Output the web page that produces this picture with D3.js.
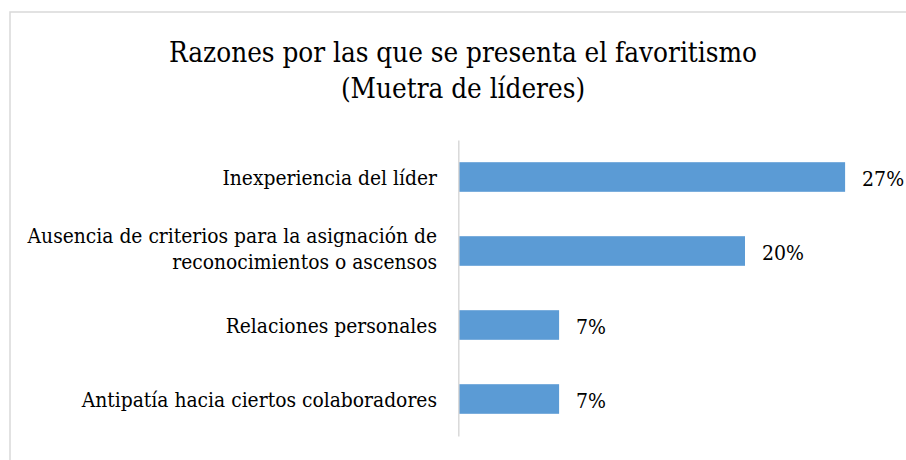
<!DOCTYPE html>
<html>
<head>
<meta charset="utf-8">
<script src="https://cdn.jsdelivr.net/npm/d3@7"></script>
<style>
  body { margin: 0; background: #fff; }
  svg text { font-family: "DejaVu Serif Condensed", "DejaVu Serif", serif; font-stretch: condensed; fill: #000; }
</style>
</head>
<body>
<svg width="906" height="460"></svg>
<script>
// titolo su due righe
var titleLines = ["Razones por las que se presenta el favoritismo", "(Muetra de líderes)"];

// categorie (alcune etichette vanno a capo)
var categorie = [
  ["Inexperiencia del líder"],
  ["Ausencia de criterios para la asignación de", "reconocimientos o ascensos"],
  ["Relaciones personales"],
  ["Antipatía hacia ciertos colaboradores"]
];
var valori = [27, 20, 7, 7];

var svg = d3.select("svg");

// cornice del grafico
svg.append("rect")
   .attr("x", 10).attr("y", 12)
   .attr("width", 910).attr("height", 460)
   .attr("fill", "none")
   .attr("stroke", "#d9d9d9")
   .attr("stroke-width", 1.5);

// titolo
svg.selectAll(".titolo").data(titleLines).enter().append("text")
   .attr("class", "titolo")
   .attr("x", 463)
   .attr("y", function(d, i){ return 62 + i*36; })
   .attr("text-anchor", "middle")
   .attr("font-size", 27.6)
   .text(function(d){ return d; });

var yScale = d3.scaleBand()
   .domain(d3.range(categorie.length))
   .range([140, 436])
   .paddingInner(0.6)
   .paddingOuter(0.3);

var xScale = d3.scaleLinear()
   .domain([0, 30])
   .range([459, 888]);

// barre
svg.selectAll(".bar").data(valori).enter().append("rect")
   .attr("class", "bar")
   .attr("x", xScale(0))
   .attr("y", function(d, i){ return yScale(i); })
   .attr("width", function(d){ return xScale(d) - xScale(0); })
   .attr("height", yScale.bandwidth())
   .attr("fill", "#5b9bd5");

// asse verticale
var yAxis = d3.axisLeft(yScale).tickSize(0).tickFormat("");
var gAxis = svg.append("g")
   .attr("transform", "translate(458.3,0)")
   .call(yAxis);
gAxis.select(".domain").attr("stroke", "#d9d9d9").attr("stroke-width", 1.5);

// etichette categorie
var lineH = 26;
svg.selectAll(".cat").data(categorie).enter().append("text")
   .attr("class", "cat")
   .attr("text-anchor", "end")
   .attr("font-size", 20.8)
   .each(function(d, i){
      var cy = yScale(i) + yScale.bandwidth()/2;
      var y0 = cy + 8 - (d.length - 1) * lineH / 2 - (d.length - 1) * 3;
      d3.select(this).selectAll("tspan").data(d).enter().append("tspan")
        .attr("x", 437)
        .attr("y", function(t, j){ return y0 + j*lineH; })
        .text(function(t){ return t; });
   });

// etichette valori
svg.selectAll(".valore").data(valori).enter().append("text")
   .attr("class", "valore")
   .attr("x", function(d){ return xScale(d) + 17; })
   .attr("y", function(d, i){ return yScale(i) + yScale.bandwidth()/2 + 9; })
   .attr("font-size", 21)
   .text(function(d){ return d + "%"; });
</script>
</body>
</html>
